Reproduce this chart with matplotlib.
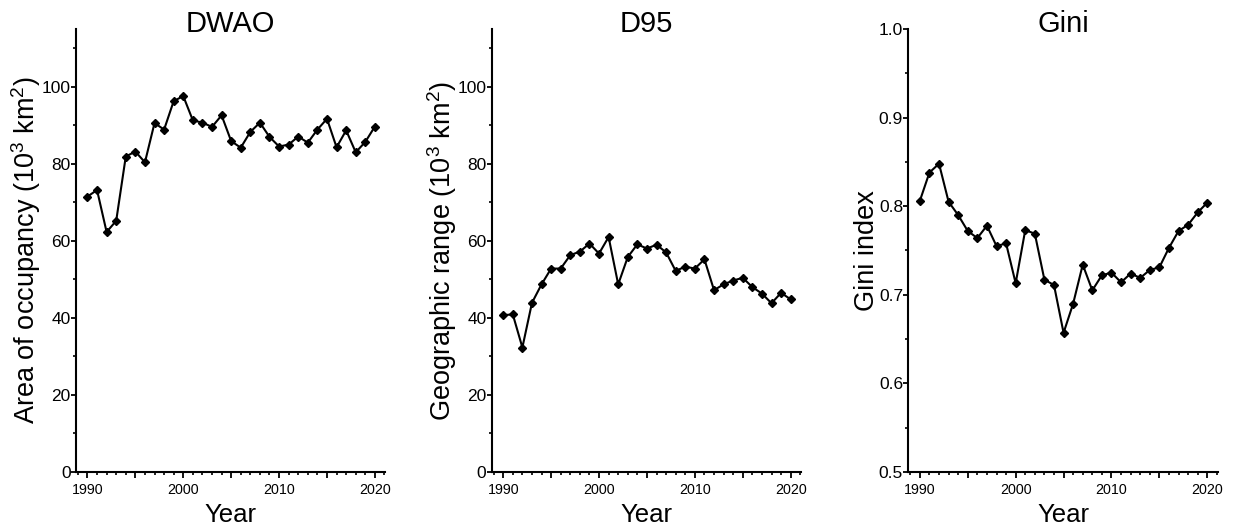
import numpy as np
import matplotlib
matplotlib.use('Agg')
import matplotlib.pyplot as plt
from matplotlib.ticker import MultipleLocator, FuncFormatter

plt.rcParams['font.family'] = ['Liberation Sans', 'DejaVu Sans']
plt.rcParams['mathtext.default'] = 'regular'

years = np.arange(1990, 2021)

dwao = [71.5, 73.2, 62.3, 65.2, 81.9, 83.2, 80.4, 90.6, 88.9, 96.3,
        97.6, 91.3, 90.7, 89.6, 92.6, 85.9, 84.2, 88.3, 90.7, 87.0,
        84.5, 85.0, 87.1, 85.5, 88.9, 91.7, 84.3, 88.7, 83.0, 85.7, 89.7]

d95 = [40.7, 40.9, 32.3, 43.9, 48.7, 52.8, 52.8, 56.3, 57.2, 59.3,
       56.7, 61.0, 48.7, 55.8, 59.1, 58.0, 59.0, 57.0, 52.2, 53.3,
       52.8, 55.2, 47.2, 48.7, 49.7, 50.4, 48.0, 46.3, 43.8, 46.5, 44.8]

gini = [0.806, 0.838, 0.848, 0.805, 0.790, 0.772, 0.764, 0.778, 0.755, 0.758,
        0.713, 0.773, 0.769, 0.717, 0.711, 0.657, 0.690, 0.734, 0.705, 0.722,
        0.725, 0.714, 0.724, 0.719, 0.728, 0.731, 0.753, 0.772, 0.779, 0.793, 0.804]

titles = ['DWAO', 'D95', 'Gini']
ylabels = ['Area of occupancy (10$^3$ km$^2$)',
           'Geographic range (10$^3$ km$^2$)',
           'Gini index']

fig = plt.figure(figsize=(12.33, 5.29), dpi=100)

lefts = [0.0616, 0.3988, 0.7367]
label_x = [-0.105, -0.107, -0.093]


def year_fmt(v, pos):
    v = int(round(v))
    return str(v) if v % 10 == 0 else ''


def panel(i, values, ylim, major, minor, yfmt):
    ax = fig.add_axes([lefts[i], 0.108, 0.2510, 0.837])
    ax.plot(years, values, color='black', lw=1.5, marker='D', ms=4.3)
    ax.set_xlim(1988.8, 2021.1)
    ax.set_ylim(*ylim)
    ax.spines['top'].set_visible(False)
    ax.spines['right'].set_visible(False)
    ax.spines['left'].set_linewidth(1.5)
    ax.spines['bottom'].set_linewidth(1.5)
    ax.xaxis.set_major_locator(MultipleLocator(5))
    ax.xaxis.set_minor_locator(MultipleLocator(1))
    ax.xaxis.set_major_formatter(FuncFormatter(year_fmt))
    ax.yaxis.set_major_locator(MultipleLocator(major))
    ax.yaxis.set_minor_locator(MultipleLocator(minor))
    ax.yaxis.set_major_formatter(FuncFormatter(yfmt))
    ax.tick_params(axis='x', which='major', length=4.3, width=1.3, labelsize=10.3, pad=4)
    ax.tick_params(axis='x', which='minor', length=2.5, width=1.2)
    ax.tick_params(axis='y', which='major', length=3.3, width=1.3, labelsize=12.5, pad=0.5)
    ax.tick_params(axis='y', which='minor', length=2.3, width=1.2)
    ax.set_title(titles[i], fontsize=21, y=0.993, pad=0)
    ax.set_xlabel('Year', fontsize=18.5)
    ax.xaxis.set_label_coords(0.5, -0.07)
    ax.set_ylabel(ylabels[i], fontsize=19.5)
    ax.yaxis.set_label_coords(label_x[i], 0.5)
    return ax


panel(0, dwao, (0, 115), 20, 10, lambda v, p: '%d' % v)
panel(1, d95, (0, 115), 20, 10, lambda v, p: '%d' % v)
panel(2, gini, (0.5, 1.0), 0.1, 0.05, lambda v, p: '%.1f' % v)

plt.savefig('out.png', dpi=100)
